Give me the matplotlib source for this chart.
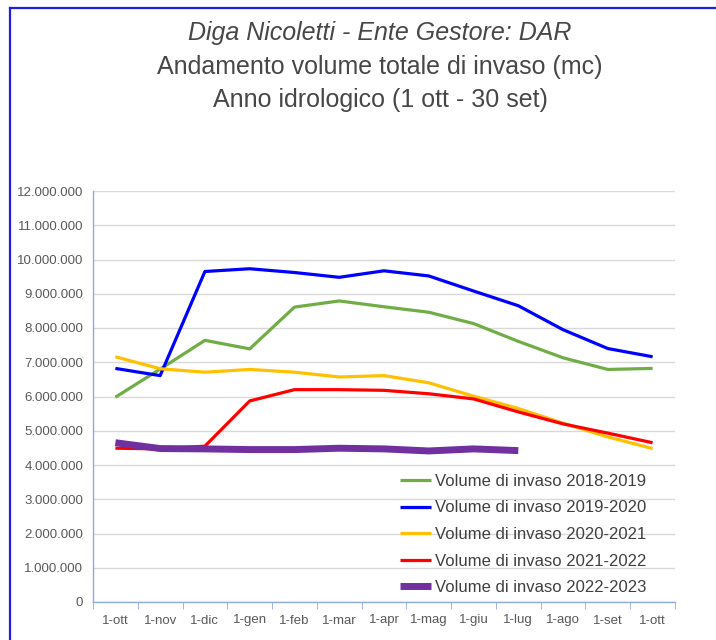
import matplotlib
matplotlib.use('Agg')
import matplotlib.pyplot as plt
from matplotlib.lines import Line2D
from matplotlib.ticker import FuncFormatter, MultipleLocator

plt.rcParams['font.family'] = ['Liberation Sans', 'DejaVu Sans']

mesi = ['1-ott', '1-nov', '1-dic', '1-gen', '1-feb', '1-mar', '1-apr',
        '1-mag', '1-giu', '1-lug', '1-ago', '1-set', '1-ott']

# volumi in mc
v_2018_2019 = [5.98e6, 6.80e6, 7.64e6, 7.39e6, 8.61e6, 8.79e6, 8.62e6,
               8.46e6, 8.13e6, 7.61e6, 7.13e6, 6.79e6, 6.82e6]
v_2019_2020 = [6.82e6, 6.61e6, 9.65e6, 9.73e6, 9.62e6, 9.48e6, 9.67e6,
               9.52e6, 9.08e6, 8.65e6, 7.95e6, 7.40e6, 7.16e6]
v_2020_2021 = [7.16e6, 6.81e6, 6.71e6, 6.79e6, 6.71e6, 6.57e6, 6.61e6,
               6.40e6, 6.01e6, 5.65e6, 5.22e6, 4.82e6, 4.48e6]
v_2021_2022 = [4.49e6, 4.47e6, 4.55e6, 5.87e6, 6.20e6, 6.20e6, 6.18e6,
               6.08e6, 5.93e6, 5.55e6, 5.20e6, 4.93e6, 4.65e6]
v_2022_2023 = [4.65e6, 4.48e6, 4.47e6, 4.45e6, 4.45e6, 4.49e6, 4.47e6,
               4.41e6, 4.47e6, 4.42e6]

serie = [
    ('Volume di invaso 2018-2019', v_2018_2019, '#70AD47', 2.3),
    ('Volume di invaso 2019-2020', v_2019_2020, '#0000FF', 2.3),
    ('Volume di invaso 2020-2021', v_2020_2021, '#FFC000', 2.3),
    ('Volume di invaso 2021-2022', v_2021_2022, '#FF0000', 2.3),
    ('Volume di invaso 2022-2023', v_2022_2023, '#7030A0', 5.0),
]

W, H = 716, 640
fig = plt.figure(figsize=(W / 100, H / 100), dpi=100)

# cornice blu del grafico
fig.add_artist(Line2D([10 / W, 1.0], [1 - 8 / H, 1 - 8 / H], color='#1F1FE0', lw=1.6))
fig.add_artist(Line2D([10 / W, 10 / W], [0, 1 - 8 / H], color='#1F1FE0', lw=1.6))

ax = fig.add_axes([93 / W, (H - 602) / H, 582 / W, (602 - 191) / H])

for nome, vals, col, lw in serie:
    ax.plot(range(len(vals)), vals, color=col, lw=lw, label=nome, solid_capstyle='butt')

ax.set_ylim(0, 12e6)
ax.set_xlim(-0.5, len(mesi) - 0.5)
ax.yaxis.set_major_locator(MultipleLocator(1e6))
ax.yaxis.set_major_formatter(FuncFormatter(lambda v, p: f'{int(v):,}'.replace(',', '.')))
ax.set_xticks(range(len(mesi)))
ax.set_xticklabels(mesi)
ax.set_xticks([i - 0.5 for i in range(len(mesi) + 1)], minor=True)
ax.tick_params(axis='x', which='major', length=0, pad=9, labelsize=9.5, colors='#595959')
ax.tick_params(axis='x', which='minor', length=5, color='#8FAADC')
ax.tick_params(axis='y', length=0, pad=7, labelsize=9.5, colors='#595959')

ax.grid(axis='y', color='#D9D9D9', lw=1)
ax.set_axisbelow(True)
for s in ['top', 'right']:
    ax.spines[s].set_visible(False)
for s in ['left', 'bottom']:
    ax.spines[s].set_color('#8FAADC')
    ax.spines[s].set_linewidth(1)

leg = ax.legend(loc='upper left', bbox_to_anchor=(400 / W, 1 - 474 / H),
                bbox_transform=fig.transFigure, frameon=False, fontsize=12,
                handlelength=1.85, handletextpad=0.25, labelspacing=0.69,
                borderpad=0, borderaxespad=0)
for t in leg.get_texts():
    t.set_color('#404040')

tc = '#474747'
fig.text(380 / W, 1 - 33 / H, 'Diga Nicoletti - Ente Gestore: DAR', ha='center', va='center',
         fontsize=18, style='italic', color=tc)
fig.text(380 / W, 1 - 67 / H, 'Andamento volume totale di invaso (mc)', ha='center', va='center',
         fontsize=18, color=tc)
fig.text(380 / W, 1 - 100 / H, 'Anno idrologico (1 ott - 30 set)', ha='center', va='center',
         fontsize=18, color=tc)

fig.savefig('out.png', dpi=100, facecolor='white')
